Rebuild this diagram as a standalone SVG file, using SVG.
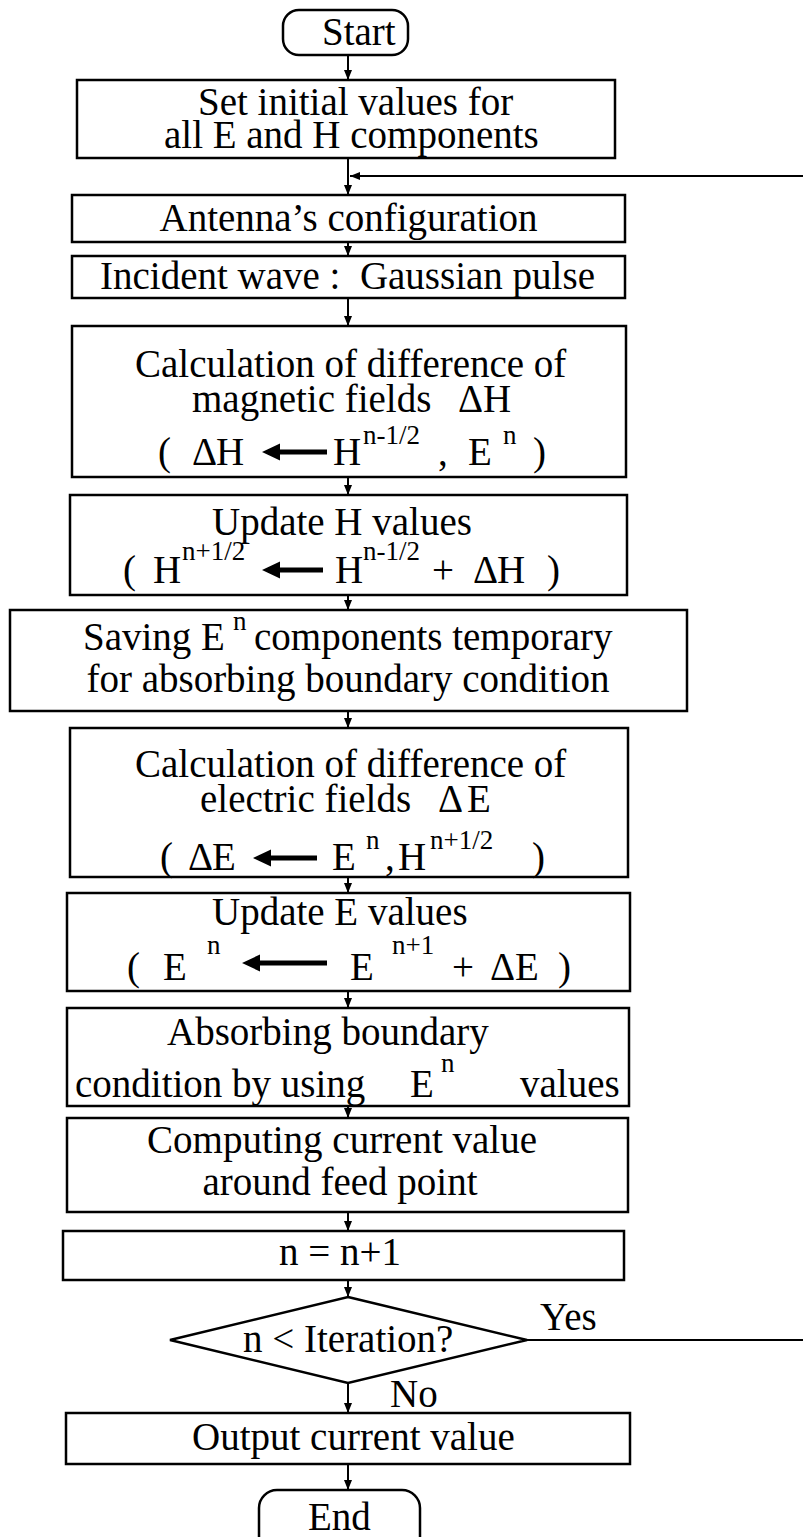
<svg xmlns="http://www.w3.org/2000/svg" width="803" height="1537" viewBox="0 0 803 1537" font-family="'Liberation Serif','Times New Roman',serif">
<defs>
<style>
.b{fill:#fff;stroke:#000;stroke-width:2.5}
.c line,.c polyline{fill:none;stroke:#000;stroke-width:2}
text{font-family:"Liberation Serif","Times New Roman",serif;font-size:39px;fill:#000;white-space:pre}
.m{text-anchor:middle}
.s{font-size:27px}
.ta{fill:#000;stroke:none}
</style>
<marker id="ah" markerWidth="10" markerHeight="8" refX="10" refY="4" orient="auto" markerUnits="userSpaceOnUse"><path d="M0,0 L10,4 L0,8 z" fill="#000"/></marker>
</defs>
<rect width="803" height="1537" fill="#fff"/>
<g id="connectors" class="c">
<line x1="348" y1="55" x2="348" y2="80" marker-end="url(#ah)"/>
<line x1="348" y1="158" x2="348" y2="195" marker-end="url(#ah)"/>
<line x1="803" y1="176" x2="350" y2="176" marker-end="url(#ah)"/>
<line x1="348" y1="242" x2="348" y2="256" marker-end="url(#ah)"/>
<line x1="348" y1="298" x2="348" y2="326" marker-end="url(#ah)"/>
<line x1="348" y1="477" x2="348" y2="495" marker-end="url(#ah)"/>
<line x1="348" y1="595" x2="348" y2="610" marker-end="url(#ah)"/>
<line x1="348" y1="711" x2="348" y2="728" marker-end="url(#ah)"/>
<line x1="348" y1="877" x2="348" y2="893" marker-end="url(#ah)"/>
<line x1="348" y1="991" x2="348" y2="1008" marker-end="url(#ah)"/>
<line x1="348" y1="1106" x2="348" y2="1118" marker-end="url(#ah)"/>
<line x1="348" y1="1212" x2="348" y2="1231" marker-end="url(#ah)"/>
<line x1="348" y1="1280" x2="348" y2="1297" marker-end="url(#ah)"/>
<line x1="348" y1="1383" x2="348" y2="1413" marker-end="url(#ah)"/>
<line x1="348" y1="1464" x2="348" y2="1490" marker-end="url(#ah)"/>
<line x1="527" y1="1340" x2="803" y2="1340"/>
<text x="540" y="1330">Yes</text>
<text x="390" y="1407">No</text>
</g>
<g id="start">
<rect class="b" x="283" y="10" width="125" height="45" rx="16"/>
<text x="322" y="45">Start</text>
</g>
<g id="init">
<rect class="b" x="77" y="80" width="538" height="78"/>
<text x="198" y="115">Set initial values for</text>
<text x="164" y="148">all E and H components</text>
</g>
<g id="antenna">
<rect class="b" x="72" y="195" width="553" height="47"/>
<text class="m" x="348.5" y="231">Antenna’s configuration</text>
</g>
<g id="incident">
<rect class="b" x="72" y="256" width="553" height="42"/>
<text x="100" y="289">Incident wave :  Gaussian pulse</text>
</g>
<g id="calcH">
<rect class="b" x="72" y="326" width="554" height="151"/>
<text x="135" y="377">Calculation of difference of</text>
<text x="192" y="412">magnetic fields</text>
<text x="458" y="412">Δ</text><text x="483" y="412">H</text>
<text x="158" y="465">(</text>
<text x="192" y="465">Δ</text><text x="216" y="465">H</text>
<polygon class="ta" points="262,452 280,443.5 280,449.5 327,449.5 327,454.5 280,454.5 280,460.5"/>
<text x="333" y="465">H</text>
<text class="s" x="363" y="444">n-1/2</text>
<text x="438" y="465">,</text>
<text x="468" y="465">E</text>
<text class="s" x="503" y="444">n</text>
<text x="533" y="465">)</text>
</g>
<g id="updateH">
<rect class="b" x="70" y="495" width="557" height="100"/>
<text x="212" y="535">Update H values</text>
<text x="123" y="583">(</text>
<text x="153" y="583">H</text>
<text class="s" x="182" y="560">n+1/2</text>
<polygon class="ta" points="262,570 280,561.5 280,567.5 323,567.5 323,572.5 280,572.5 280,578.5"/>
<text x="335" y="583">H</text>
<text class="s" x="363" y="560">n-1/2</text>
<text x="432" y="583">+</text>
<text x="473" y="583">Δ</text><text x="497" y="583">H</text>
<text x="547" y="583">)</text>
</g>
<g id="saving">
<rect class="b" x="10" y="610" width="677" height="101"/>
<text x="83" y="650">Saving E</text>
<text class="s" x="233" y="630">n</text>
<text x="254" y="650">components temporary</text>
<text class="m" x="348" y="692">for absorbing boundary condition</text>
</g>
<g id="calcE">
<rect class="b" x="70" y="728" width="558" height="149"/>
<text x="135" y="777">Calculation of difference of</text>
<text x="200" y="812">electric fields</text>
<text x="438" y="812">Δ</text><text x="467" y="812">E</text>
<text x="160" y="870">(</text>
<text x="188" y="870">Δ</text><text x="212" y="870">E</text>
<polygon class="ta" points="253,858 271,849.5 271,855.5 317,855.5 317,860.5 271,860.5 271,866.5"/>
<text x="332" y="870">E</text>
<text class="s" x="366" y="849">n</text>
<text x="385" y="870">,</text>
<text x="398" y="870">H</text>
<text class="s" x="430" y="849">n+1/2</text>
<text x="532" y="870">)</text>
</g>
<g id="updateE">
<rect class="b" x="67" y="893" width="563" height="98"/>
<text x="212" y="925">Update E values</text>
<text x="127" y="980">(</text>
<text x="163" y="980">E</text>
<text class="s" x="207" y="954">n</text>
<polygon class="ta" points="242,963 260,954.5 260,960.5 327,960.5 327,965.5 260,965.5 260,971.5"/>
<text x="350" y="980">E</text>
<text class="s" x="392" y="954">n+1</text>
<text x="452" y="980">+</text>
<text x="490" y="980">Δ</text><text x="515" y="980">E</text>
<text x="558" y="980">)</text>
</g>
<g id="absorbing">
<rect class="b" x="67" y="1008" width="562" height="98"/>
<text x="167" y="1045">Absorbing boundary</text>
<text x="75" y="1097">condition by using</text>
<text x="410" y="1097">E</text>
<text class="s" x="441" y="1072">n</text>
<text x="520" y="1097">values</text>
</g>
<g id="computing">
<rect class="b" x="67" y="1118" width="561" height="94"/>
<text class="m" x="342" y="1153">Computing current value</text>
<text class="m" x="340" y="1195">around feed point</text>
</g>
<g id="increment">
<rect class="b" x="63" y="1231" width="561" height="49"/>
<text class="m" x="340" y="1265">n = n+1</text>
</g>
<g id="decision">
<polygon class="b" points="348,1297 527,1340 348,1383 170,1340"/>
<text x="243" y="1352">n &lt; Iteration?</text>
</g>
<g id="output">
<rect class="b" x="66" y="1413" width="564" height="51"/>
<text x="192" y="1450">Output current value</text>
</g>
<g id="end">
<rect class="b" x="259" y="1490" width="161" height="70" rx="18"/>
<text x="308" y="1530">End</text>
</g>
</svg>
